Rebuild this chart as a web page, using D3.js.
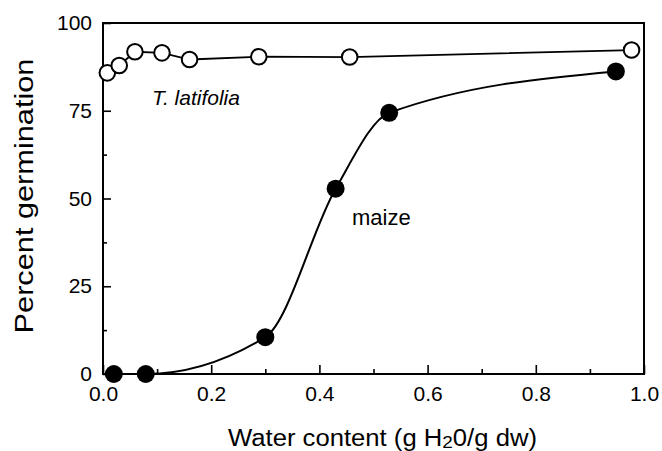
<!DOCTYPE html>
<html>
<head>
<meta charset="utf-8">
<script src="https://cdn.jsdelivr.net/npm/d3@7"></script>
<style>
  body { margin: 0; background: #fff; }
  svg { display: block; font-family: "Liberation Sans", Arial, Helvetica, sans-serif; }
</style>
</head>
<body>
<svg id="chart" width="662" height="451"></svg>
<script>
// T. latifolia (open circles)
const tlatX = [0.008, 0.030, 0.059, 0.109, 0.160, 0.288, 0.456, 0.977];
const tlatY = [85.8, 87.9, 91.8, 91.5, 89.6, 90.4, 90.3, 92.3];
// maize (filled circles)
const maizeX = [0.020, 0.079, 0.300, 0.430, 0.529, 0.948];
const maizeY = [0, 0, 10.5, 52.8, 74.4, 86.2];

const xMajor = [0, 0.2, 0.4, 0.6, 0.8, 1.0];
const xMinor = [0.1, 0.3, 0.5, 0.7, 0.9];
const yMajor = [0, 25, 50, 75, 100];
const yMinor = [12.5, 37.5, 62.5, 87.5];

const margin = { left: 103, top: 23 };
const width = 541, height = 351;

const svg = d3.select("#chart");
const g = svg.append("g").attr("transform", `translate(${margin.left},${margin.top})`);

const x = d3.scaleLinear().domain([0, 1]).range([0, width]);
const y = d3.scaleLinear().domain([0, 100]).range([height, 0]);

// axes, ticks pointing inside the frame
g.append("g")
  .attr("transform", `translate(0,${height})`)
  .call(d3.axisBottom(x).tickValues(xMajor).tickFormat(d3.format(".1f"))
    .tickSizeInner(-9).tickSizeOuter(0).tickPadding(12));
g.append("g")
  .attr("transform", `translate(0,${height})`)
  .call(d3.axisBottom(x).tickValues(xMinor).tickFormat("")
    .tickSizeInner(-5).tickSizeOuter(0));

g.append("g")
  .call(d3.axisLeft(y).tickValues(yMajor).tickFormat(d3.format("d"))
    .tickSizeInner(-8).tickSizeOuter(0).tickPadding(11));
g.append("g")
  .call(d3.axisLeft(y).tickValues(yMinor).tickFormat("")
    .tickSizeInner(-4).tickSizeOuter(0));

g.selectAll(".domain").remove();
g.selectAll(".tick line").attr("stroke", "#000").attr("stroke-width", 1.6);
g.selectAll(".tick text")
  .attr("fill", "#000")
  .style("font-size", "21px");

// frame
g.append("rect")
  .attr("x", 0).attr("y", 0)
  .attr("width", width).attr("height", height)
  .attr("fill", "none")
  .attr("stroke", "#000")
  .attr("stroke-width", 2);

const tlat = tlatX.map((v, i) => ({ x: v, y: tlatY[i] }));
const maize = maizeX.map((v, i) => ({ x: v, y: maizeY[i] }));

// lines
g.append("path")
  .datum(tlat)
  .attr("fill", "none")
  .attr("stroke", "#000")
  .attr("stroke-width", 1.8)
  .attr("d", d3.line().x(d => x(d.x)).y(d => y(d.y)));

g.append("path")
  .datum(maize)
  .attr("fill", "none")
  .attr("stroke", "#000")
  .attr("stroke-width", 2)
  .attr("d", d3.line().x(d => x(d.x)).y(d => y(d.y)).curve(d3.curveMonotoneX));

// markers
g.selectAll(".tlat")
  .data(tlat)
  .enter().append("circle")
  .attr("class", "tlat")
  .attr("cx", d => x(d.x))
  .attr("cy", d => y(d.y))
  .attr("r", 7.8)
  .attr("fill", "#fff")
  .attr("stroke", "#000")
  .attr("stroke-width", 2);

g.selectAll(".maize")
  .data(maize)
  .enter().append("circle")
  .attr("class", "maize")
  .attr("cx", d => x(d.x))
  .attr("cy", d => y(d.y))
  .attr("r", 9)
  .attr("fill", "#000");

// series labels
svg.append("text")
  .attr("x", 152).attr("y", 105)
  .style("font-size", "21px")
  .style("font-style", "italic")
  .text("T. latifolia");

svg.append("text")
  .attr("x", 352).attr("y", 225)
  .style("font-size", "22px")
  .text("maize");

// axis titles, stretched to the reference widths
function fitTitle(sel, targetLen) {
  const w = sel.node().getBBox().width;
  return targetLen / w;
}

const xt = svg.append("g");
const xtText = xt.append("text").style("font-size", "23px");
xtText.append("tspan").text("Water content (g H");
xtText.append("tspan").style("font-size", "17px").attr("dy", 2).text("2");
xtText.append("tspan").attr("dy", -2).text("0/g dw)");
const sx = fitTitle(xtText, 309);
xt.attr("transform", `translate(228,446) scale(${sx},1)`);

const yt = svg.append("g");
const ytText = yt.append("text").style("font-size", "25px").attr("text-anchor", "middle")
  .text("Percent germination");
const sy = fitTitle(ytText, 275);
yt.attr("transform", `translate(33,196) rotate(-90) scale(${sy},1)`);
</script>
</body>
</html>
